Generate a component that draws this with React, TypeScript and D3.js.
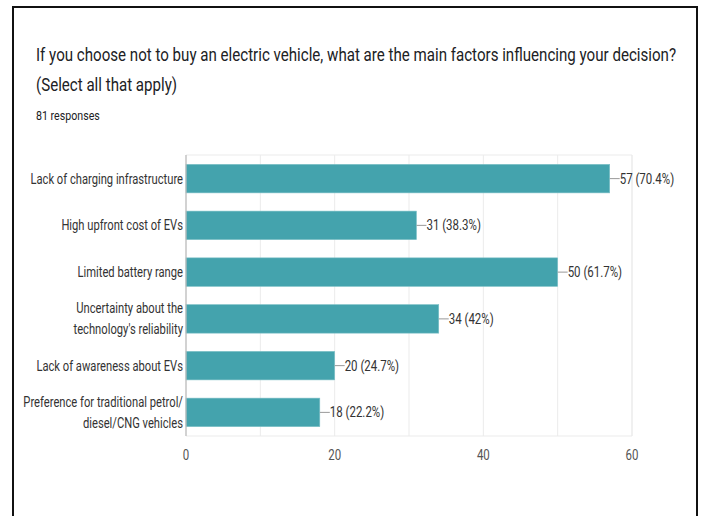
import React from "react";
import * as d3 from "d3";

const categories: string[][] = [
  ["Lack of charging infrastructure"],
  ["High upfront cost of EVs"],
  ["Limited battery range"],
  ["Uncertainty about the", "technology's reliability"],
  ["Lack of awareness about EVs"],
  ["Preference for traditional petrol/", "diesel/CNG vehicles"],
];
const counts = [57, 31, 50, 34, 20, 18];
const percents = ["70.4%", "38.3%", "61.7%", "42%", "24.7%", "22.2%"];
const xTicks = [0, 20, 40, 60];
const gridTicks = [0, 10, 20, 30, 40, 50, 60];
const titleLines = [
  "If you choose not to buy an electric vehicle, what are the main factors influencing your decision?",
  "(Select all that apply)",
];
const subtitle = "81 responses";

const W = 707;
const H = 516;
const FONT = "Roboto, 'Liberation Sans', Arial, sans-serif";

export default function App() {
  const left = 186;
  const right = 632;
  const top = 155;
  const bottom = 436;
  const x = d3.scaleLinear().domain([0, 60]).range([left, right]);
  const y = d3
    .scaleBand<number>()
    .domain(d3.range(categories.length))
    .range([top, bottom])
    .paddingInner(0.39)
    .paddingOuter(0.2);

  const cond = (tx: number, ty: number, s: number) => `translate(${tx},${ty}) scale(${s},1)`;

  return (
    <svg
      width={W}
      height={H}
      style={{ position: "absolute", left: 0, top: 0, background: "#fff" }}
      fontFamily={FONT}
    >
      <rect x={0} y={0} width={W} height={H} fill="#fff" />
      {/* outer frame */}
      <path d={`M13,${H} L13,7 L697,7 L697,${H}`} fill="none" stroke="#111" strokeWidth={2} />

      {/* title */}
      <text transform={cond(36, 61, 0.795)} fontSize={19} fill="#202124">
        {titleLines[0]}
      </text>
      <text transform={cond(36, 91, 0.795)} fontSize={19} fill="#202124">
        {titleLines[1]}
      </text>
      <text transform={cond(36, 120, 0.82)} fontSize={13} fill="#202124">
        {subtitle}
      </text>

      {/* grid */}
      {gridTicks.map((t) => (
        <line
          key={"g" + t}
          x1={x(t)}
          x2={x(t)}
          y1={top}
          y2={bottom}
          stroke="#ebebeb"
          strokeWidth={1}
        />
      ))}
      <line x1={left} x2={right} y1={top} y2={top} stroke="#ebebeb" />
      <line x1={left} x2={right} y1={bottom} y2={bottom} stroke="#ebebeb" />
      <line x1={right} x2={right} y1={top} y2={bottom} stroke="#ebebeb" />

      {/* bars */}
      {counts.map((v, i) => {
        const by = y(i)!;
        const bh = y.bandwidth();
        const cy = by + bh / 2;
        const xe = x(v);
        return (
          <g key={"b" + i}>
            <rect x={x(0)} y={by} width={xe - x(0)} height={bh} fill="#44a3ad" stroke="#7cc0c7" strokeWidth={0.6} />
            <line x1={xe} x2={xe + 10} y1={cy} y2={cy} stroke="#999" strokeWidth={1} />
            <text transform={cond(xe + 10, cy + 5, 0.82)} fontSize={14} fill="#333">
              {`${v} (${percents[i]})`}
            </text>
          </g>
        );
      })}

      {/* axis line */}
      <line x1={left} x2={left} y1={top} y2={bottom} stroke="#bbb" strokeWidth={1.2} />

      {/* category labels */}
      {categories.map((lines, i) => {
        const cy = y(i)! + y.bandwidth() / 2;
        const lh = 21;
        return lines.map((ln, j) => {
          const off = (j - (lines.length - 1) / 2) * lh;
          return (
            <text
              key={`c${i}-${j}`}
              transform={cond(183, cy + off + 5, 0.8)}
              fontSize={14}
              fill="#333"
              textAnchor="end"
            >
              {ln}
            </text>
          );
        });
      })}

      {/* x tick labels */}
      {xTicks.map((t) => (
        <text
          key={"t" + t}
          transform={cond(x(t), 460, 0.82)}
          fontSize={14}
          fill="#555"
          textAnchor="middle"
        >
          {t}
        </text>
      ))}
    </svg>
  );
}
